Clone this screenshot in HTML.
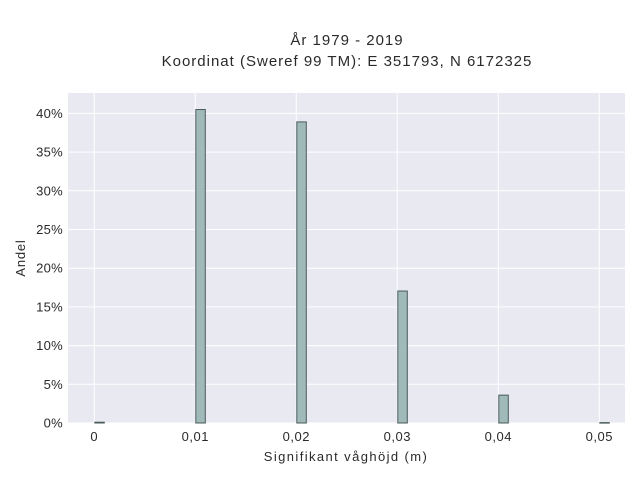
<!DOCTYPE html>
<html><head><meta charset="utf-8"><style>
body{margin:0;background:#fff;}
svg{display:block;font-family:"Liberation Sans",sans-serif;}
</style></head><body>
<svg id="c" width="640" height="480">
<text x="347" y="45" text-anchor="middle" font-size="15" letter-spacing="1" fill="#2a2a2a">År 1979 - 2019</text>
<text x="347" y="66" text-anchor="middle" font-size="15" letter-spacing="1" fill="#2a2a2a">Koordinat (Sweref 99 TM): E 351793, N 6172325</text>
<rect x="68" y="93" width="557" height="330" fill="#e9e9f1"/>
<g id="grid"></g><g id="bars"></g><g id="ticks"></g>
<text x="346" y="461" text-anchor="middle" font-size="13" letter-spacing="1.4" fill="#2a2a2a">Signifikant våghöjd (m)</text>
<text transform="translate(25,258) rotate(-90)" text-anchor="middle" font-size="13" letter-spacing="0.8" fill="#2a2a2a">Andel</text>
</svg>
<script>
const categories=[0,0.01,0.02,0.03,0.04,0.05];
const values=[0.1,40.5,38.9,17.05,3.6,0.05];
const xTicks=[0,0.01,0.02,0.03,0.04,0.05];
const xTickLabels=["0","0,01","0,02","0,03","0,04","0,05"];
const yTicks=[0,5,10,15,20,25,30,35,40];
const ns="http://www.w3.org/2000/svg";
const X=v=>94.3+v*10100, Y=v=>423-v*7.74;
const g=document.getElementById('grid'),b=document.getElementById('bars'),t=document.getElementById('ticks');
function mk(tag,p,par){const e=document.createElementNS(ns,tag);for(const k in p)e.setAttribute(k,p[k]);par.appendChild(e);return e;}
yTicks.forEach(v=>{
 const l=mk('line',{x1:68,x2:625,y1:Y(v),y2:Y(v),stroke:'#fff','stroke-width':1},g);
 
 
 const s=mk('text',{x:63,y:Y(v)+4.5,'text-anchor':'end','font-size':13,'letter-spacing':0.3,fill:'#2a2a2a'},t);
 s.textContent=v+'%';
 
 
});
xTicks.forEach((v,i)=>{
 const l=mk('line',{x1:X(v),x2:X(v),y1:93,y2:423,stroke:'#fff','stroke-width':1},g);
 
 
 const s=mk('text',{x:X(v),y:441,'text-anchor':'middle','font-size':13,'letter-spacing':0.5,fill:'#2a2a2a'},t);
 s.textContent=xTickLabels[i];
 
 
});
categories.forEach((c,i)=>{
 const r=mk('rect',{x:X(c)+0.5,y:Y(values[i]),width:9.5,height:Math.max(0.5,423-Y(values[i])),fill:'#9fbab9',stroke:'#4a5a5a','stroke-width':1},b);
 
 
});
</script>
</body></html>
